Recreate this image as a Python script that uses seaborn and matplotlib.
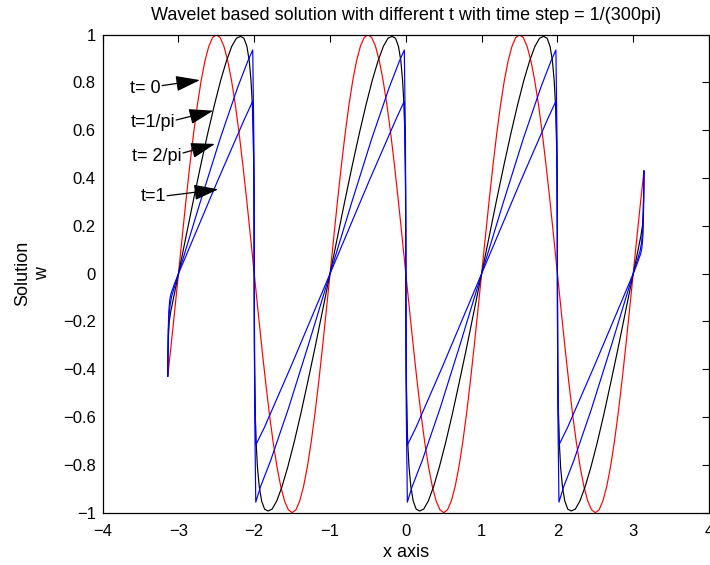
import matplotlib
matplotlib.use("Agg")
import matplotlib.pyplot as plt
import seaborn as sns
import pandas as pd

# ---------------- data ----------------
# t = 0 (red)
red_x = [-3.1416, -3.10, -3.05,
         -3.00, -2.95, -2.90, -2.85, -2.80, -2.75, -2.70, -2.65, -2.60, -2.55,
         -2.50, -2.45, -2.40, -2.35, -2.30, -2.25, -2.20, -2.15, -2.10, -2.05,
         -2.00, -1.95, -1.90, -1.85, -1.80, -1.75, -1.70, -1.65, -1.60, -1.55,
         -1.50, -1.45, -1.40, -1.35, -1.30, -1.25, -1.20, -1.15, -1.10, -1.05,
         -1.00, -0.95, -0.90, -0.85, -0.80, -0.75, -0.70, -0.65, -0.60, -0.55,
         -0.50, -0.45, -0.40, -0.35, -0.30, -0.25, -0.20, -0.15, -0.10, -0.05,
         0.00, 0.05, 0.10, 0.15, 0.20, 0.25, 0.30, 0.35, 0.40, 0.45,
         0.50, 0.55, 0.60, 0.65, 0.70, 0.75, 0.80, 0.85, 0.90, 0.95,
         1.00, 1.05, 1.10, 1.15, 1.20, 1.25, 1.30, 1.35, 1.40, 1.45,
         1.50, 1.55, 1.60, 1.65, 1.70, 1.75, 1.80, 1.85, 1.90, 1.95,
         2.00, 2.05, 2.10, 2.15, 2.20, 2.25, 2.30, 2.35, 2.40, 2.45,
         2.50, 2.55, 2.60, 2.65, 2.70, 2.75, 2.80, 2.85, 2.90, 2.95,
         3.00, 3.05, 3.10, 3.1416]
red_y = [-0.430, -0.309, -0.156,
         0.000, 0.156, 0.309, 0.454, 0.588, 0.707, 0.809, 0.891, 0.951, 0.988,
         1.000, 0.988, 0.951, 0.891, 0.809, 0.707, 0.588, 0.454, 0.309, 0.156,
         0.000, -0.156, -0.309, -0.454, -0.588, -0.707, -0.809, -0.891, -0.951, -0.988,
         -1.000, -0.988, -0.951, -0.891, -0.809, -0.707, -0.588, -0.454, -0.309, -0.156,
         0.000, 0.156, 0.309, 0.454, 0.588, 0.707, 0.809, 0.891, 0.951, 0.988,
         1.000, 0.988, 0.951, 0.891, 0.809, 0.707, 0.588, 0.454, 0.309, 0.156,
         0.000, -0.156, -0.309, -0.454, -0.588, -0.707, -0.809, -0.891, -0.951, -0.988,
         -1.000, -0.988, -0.951, -0.891, -0.809, -0.707, -0.588, -0.454, -0.309, -0.156,
         0.000, 0.156, 0.309, 0.454, 0.588, 0.707, 0.809, 0.891, 0.951, 0.988,
         1.000, 0.988, 0.951, 0.891, 0.809, 0.707, 0.588, 0.454, 0.309, 0.156,
         0.000, -0.156, -0.309, -0.454, -0.588, -0.707, -0.809, -0.891, -0.951, -0.988,
         -1.000, -0.988, -0.951, -0.891, -0.809, -0.707, -0.588, -0.454, -0.309, -0.156,
         0.000, 0.156, 0.309, 0.430]

# t = 1/pi (black)
black_x = [-3.1416, -3.138, -3.132, -3.122, -3.100,
           -3.000, -2.900, -2.802, -2.706, -2.613, -2.525, -2.443, -2.366, -2.297, -2.236,
           -2.182, -2.136, -2.097, -2.066, -2.043, -2.025, -2.013, -2.006, -2.002, -2.000,
           -2.000, -2.000, -1.998, -1.994, -1.987, -1.975, -1.958, -1.934, -1.903, -1.864,
           -1.818, -1.764, -1.703, -1.634, -1.558, -1.475, -1.387, -1.295, -1.198, -1.100,
           -1.000, -0.900, -0.802, -0.706, -0.613, -0.525, -0.443, -0.366, -0.297, -0.236,
           -0.182, -0.136, -0.097, -0.066, -0.043, -0.025, -0.013, -0.006, -0.002, 0.000,
           0.000, 0.000, 0.002, 0.006, 0.013, 0.025, 0.042, 0.066, 0.097, 0.136,
           0.182, 0.236, 0.297, 0.366, 0.442, 0.525, 0.613, 0.705, 0.802, 0.900,
           1.000, 1.100, 1.198, 1.294, 1.387, 1.475, 1.557, 1.634, 1.703, 1.764,
           1.818, 1.864, 1.903, 1.934, 1.957, 1.975, 1.987, 1.994, 1.998, 2.000,
           2.000, 2.000, 2.002, 2.006, 2.013, 2.025, 2.042, 2.066, 2.097, 2.136,
           2.182, 2.236, 2.297, 2.366, 2.442, 2.525, 2.613, 2.705, 2.802, 2.900,
           3.000, 3.100, 3.122, 3.132, 3.138, 3.1416]
black_y = [-0.430, -0.340, -0.260, -0.200, -0.156,
           0.000, 0.156, 0.309, 0.454, 0.588, 0.707, 0.809, 0.891, 0.951, 0.985,
           0.993, 0.985, 0.951, 0.891, 0.809, 0.707, 0.588, 0.454, 0.309, 0.156,
           0.000, -0.156, -0.309, -0.454, -0.588, -0.707, -0.809, -0.891, -0.951, -0.985,
           -0.993, -0.985, -0.951, -0.891, -0.809, -0.707, -0.588, -0.454, -0.309, -0.156,
           0.000, 0.156, 0.309, 0.454, 0.588, 0.707, 0.809, 0.891, 0.951, 0.985,
           0.993, 0.985, 0.951, 0.891, 0.809, 0.707, 0.588, 0.454, 0.309, 0.156,
           0.000, -0.156, -0.309, -0.454, -0.588, -0.707, -0.809, -0.891, -0.951, -0.985,
           -0.993, -0.985, -0.951, -0.891, -0.809, -0.707, -0.588, -0.454, -0.309, -0.156,
           0.000, 0.156, 0.309, 0.454, 0.588, 0.707, 0.809, 0.891, 0.951, 0.985,
           0.993, 0.985, 0.951, 0.891, 0.809, 0.707, 0.588, 0.454, 0.309, 0.156,
           0.000, -0.156, -0.309, -0.454, -0.588, -0.707, -0.809, -0.891, -0.951, -0.985,
           -0.993, -0.985, -0.951, -0.891, -0.809, -0.707, -0.588, -0.454, -0.309, -0.156,
           0.000, 0.156, 0.200, 0.260, 0.340, 0.430]

# t = 2/pi (blue)
b2_x = [-3.1416, -3.138, -3.133, -3.125, -3.110, -3.090, -3.050, -3.000,
        -2.716, -2.450, -2.215, -2.083, -2.020, -2.005, -1.995, -1.980,
        -1.917, -1.785, -1.550, -1.284, -1.000, -0.716, -0.450, -0.215, -0.083,
        -0.020, -0.005, 0.005, 0.020,
        0.083, 0.215, 0.450, 0.716, 1.000, 1.284, 1.550, 1.785, 1.917,
        1.980, 1.995, 2.005, 2.020,
        2.083, 2.215, 2.450, 2.716, 3.000, 3.050, 3.090, 3.110, 3.125, 3.133, 3.138, 3.1416]
b2_y = [-0.430, -0.330, -0.240, -0.180, -0.130, -0.095, -0.052, 0.000,
        0.296, 0.565, 0.783, 0.891, 0.936, 0.550, -0.550, -0.956,
        -0.891, -0.783, -0.565, -0.296, 0.000, 0.296, 0.565, 0.783, 0.891,
        0.936, 0.550, -0.550, -0.956,
        -0.891, -0.783, -0.565, -0.296, 0.000, 0.296, 0.565, 0.783, 0.891,
        0.936, 0.550, -0.550, -0.956,
        -0.891, -0.783, -0.565, -0.296, 0.000, 0.052, 0.095, 0.130, 0.180, 0.240, 0.330, 0.430]

# t = 1 (blue)
b1_x = [-3.1416, -3.139, -3.135, -3.128, -3.115, -3.100, -3.050, -3.000,
        -2.483, -2.133, -2.020, -2.005, -1.995, -1.980, -1.867, -1.517,
        -1.000, -0.483, -0.133, -0.020, -0.005, 0.005, 0.020, 0.133, 0.483,
        1.000, 1.517, 1.867, 1.980, 1.995, 2.005, 2.020, 2.133, 2.483,
        3.000, 3.050, 3.100, 3.115, 3.128, 3.135, 3.139, 3.1416]
b1_y = [-0.430, -0.330, -0.240, -0.160, -0.110, -0.085, -0.040, 0.000,
        0.389, 0.644, 0.722, 0.400, -0.400, -0.717, -0.644, -0.389,
        0.000, 0.389, 0.644, 0.722, 0.400, -0.400, -0.717, -0.644, -0.389,
        0.000, 0.389, 0.644, 0.722, 0.400, -0.400, -0.717, -0.644, -0.389,
        0.000, 0.040, 0.085, 0.110, 0.160, 0.240, 0.330, 0.430]

x_ticks = [-4, -3, -2, -1, 0, 1, 2, 3, 4]
x_ticklabels = ["\u22124", "\u22123", "\u22122", "\u22121", "0", "1", "2", "3", "4"]
y_ticks = [-1, -0.8, -0.6, -0.4, -0.2, 0, 0.2, 0.4, 0.6, 0.8, 1]
y_ticklabels = ["\u22121", "\u22120.8", "\u22120.6", "\u22120.4", "\u22120.2", "0",
                "0.2", "0.4", "0.6", "0.8", "1"]

labels = ["t= 0", "t=1/pi", "t= 2/pi", "t=1"]
label_pos = [(-3.231, 0.776), (-3.046, 0.631), (-2.958, 0.490), (-3.165, 0.322)]
arrow_tail = [(-3.215, 0.787), (-3.030, 0.643), (-2.940, 0.505), (-3.150, 0.326)]
arrow_tip = [(-2.716, 0.810), (-2.541, 0.682), (-2.518, 0.543), (-2.475, 0.353)]

title = "Wavelet based solution with different t with time step = 1/(300pi)"

# ---------------- plotting ----------------
sns.set_theme(style="white")
plt.rcParams['font.family'] = ['Liberation Sans', 'DejaVu Sans']
plt.rcParams['axes.unicode_minus'] = True

fig = plt.figure(figsize=(7.1, 5.65), dpi=100)
ax = fig.add_axes([0.1446, 0.0926, 0.854, 0.846])

series = [(red_x, red_y, "red"), (black_x, black_y, "black"),
          (b2_x, b2_y, "blue"), (b1_x, b1_y, "blue")]
for xs, ys, c in series:
    df = pd.DataFrame({"x": xs, "y": ys})
    sns.lineplot(data=df, x="x", y="y", sort=False, estimator=None,
                 color=c, linewidth=0.85, ax=ax)

ax.set_xlim(-4, 4)
ax.set_ylim(-1, 1)
ax.set_xticks(x_ticks)
ax.set_xticklabels(x_ticklabels)
ax.set_yticks(y_ticks)
ax.set_yticklabels(y_ticklabels)
ax.tick_params(direction="in", length=5, width=0.8, top=True, right=True,
               labelsize=12, colors="black")
ax.tick_params(axis="x", pad=8)
ax.tick_params(axis="y", pad=5)
for sp in ax.spines.values():
    sp.set_color("black")
    sp.set_linewidth(0.9)

ax.set_title(title, fontsize=13, color="black", pad=10.5)
ax.set_xlabel("x axis", fontsize=13, color="black")
ax.set_ylabel("Solution\nw", fontsize=13, color="black")
ax.xaxis.set_label_coords(0.5, -0.065)
ax.yaxis.set_label_coords(-0.085, 0.5)

for lab, lp, tl, tp in zip(labels, label_pos, arrow_tail, arrow_tip):
    ax.text(lp[0], lp[1], lab, ha="right", va="center", fontsize=13, color="black")
    ax.annotate("", xy=tp, xytext=tl,
                arrowprops=dict(arrowstyle="-|>,head_length=0.75,head_width=0.24",
                                color="black", lw=0.9, shrinkA=0, shrinkB=0,
                                mutation_scale=20))

fig.savefig("out.png", dpi=100)
